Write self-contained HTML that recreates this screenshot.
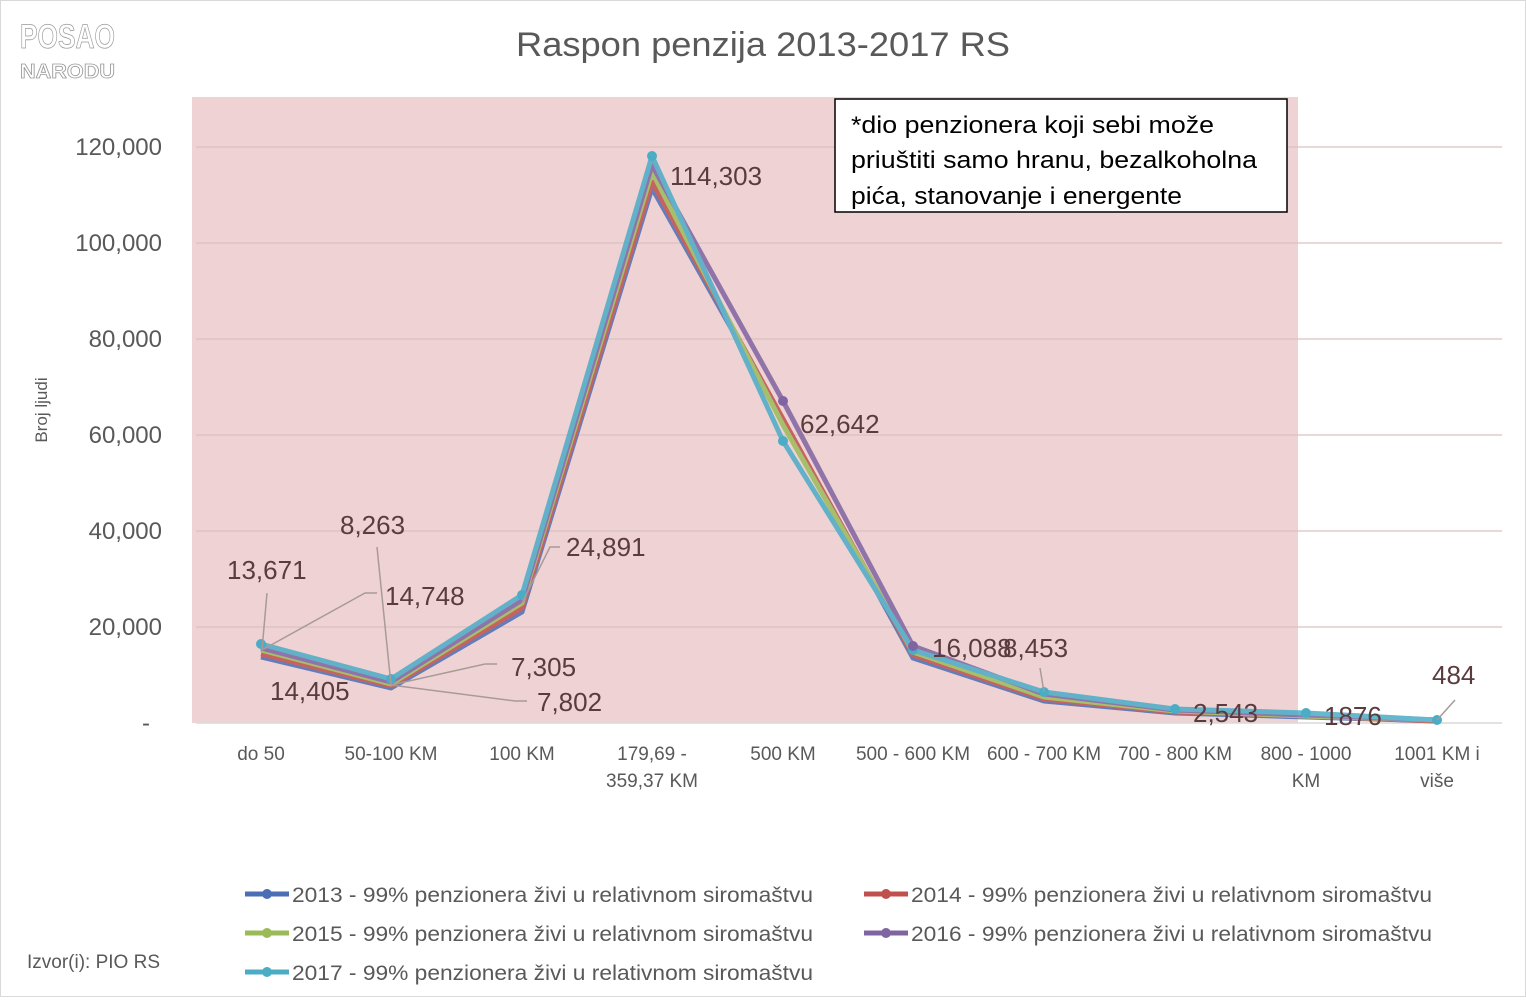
<!DOCTYPE html>
<html><head><meta charset="utf-8"><style>
body{margin:0;background:#fff;}
svg text{font-family:"Liberation Sans",sans-serif;}
</style></head><body>
<svg width="1526" height="997" viewBox="0 0 1526 997" xmlns="http://www.w3.org/2000/svg">
<rect x="0.5" y="0.5" width="1525" height="996" fill="#fff" stroke="#d9d9d9"/>
<g font-family="Liberation Sans" font-weight="bold" fill="#fff" stroke="#999" stroke-width="0.8">
<text x="20" y="48" font-size="34" textLength="95" lengthAdjust="spacingAndGlyphs">POSAO</text>
<text x="20" y="78" font-size="20" textLength="95" lengthAdjust="spacingAndGlyphs">NARODU</text>
</g>
<text x="516" y="56" font-size="34" fill="#595959" textLength="494" lengthAdjust="spacingAndGlyphs">Raspon penzija 2013-2017 RS</text>
<rect x="192" y="97" width="1106" height="626" fill="#efd3d4"/>
<g stroke="#d9c0c0" stroke-width="1.3">
<line x1="196" x2="1502" y1="147" y2="147"/><line x1="196" x2="1502" y1="243" y2="243"/>
<line x1="196" x2="1502" y1="339" y2="339"/><line x1="196" x2="1502" y1="435" y2="435"/>
<line x1="196" x2="1502" y1="531" y2="531"/><line x1="196" x2="1502" y1="627" y2="627"/>
</g>
<line x1="196" x2="1502" y1="723" y2="723" stroke="#d9d9d9" stroke-width="1.5"/>
<g font-size="24" fill="#595959" text-anchor="end">
<text x="162" y="155">120,000</text><text x="162" y="251">100,000</text><text x="162" y="347">80,000</text>
<text x="162" y="443">60,000</text><text x="162" y="539">40,000</text><text x="162" y="635">20,000</text><text x="150" y="731">-</text>
</g>
<text transform="translate(47,410) rotate(-90)" font-size="17" fill="#595959" text-anchor="middle">Broj ljudi</text>
<g font-size="19" fill="#595959" text-anchor="middle">
<text x="261" y="760">do 50</text><text x="391" y="760">50-100 KM</text><text x="522" y="760">100 KM</text>
<text x="652" y="760">179,69 -</text><text x="652" y="787">359,37 KM</text><text x="783" y="760">500 KM</text>
<text x="913" y="760">500 - 600 KM</text><text x="1044" y="760">600 - 700 KM</text><text x="1175" y="760">700 - 800 KM</text>
<text x="1306" y="760">800 - 1000</text><text x="1306" y="787">KM</text><text x="1437" y="760">1001 KM i</text><text x="1437" y="787">više</text>
</g>
<g fill="none" stroke-width="5" stroke-linejoin="round" opacity="0.85">
<polyline stroke="#4a6fb5" points="261,657 391,688 522,612 652,188 783,420 913,658 1044,701 1175,713 1306,717 1437,721"/>
<polyline stroke="#c0504d" points="261,654 391,686 522,608 652,182 783,419 913,655 1044,699 1175,712 1306,716 1437,721"/>
<polyline stroke="#9bbb59" points="261,650 391,684 522,603 652,172 783,425 913,652 1044,697 1175,711 1306,716 1437,720"/>
<polyline stroke="#8064a2" points="261,648 391,682 522,600 652,165 783,401 913,646 1044,694 1175,710 1306,715 1437,720"/>
<polyline stroke="#4bacc6" points="261,644 391,679 522,595 652,156 783,441 913,650 1044,692 1175,709 1306,713 1437,720"/>
</g>
<g fill="#4bacc6">
<circle cx="261" cy="644" r="5"/><circle cx="391" cy="679" r="5"/><circle cx="522" cy="595" r="5"/><circle cx="652" cy="156" r="5"/><circle cx="783" cy="441" r="5"/><circle cx="913" cy="650" r="5"/><circle cx="1044" cy="692" r="5"/><circle cx="1175" cy="709" r="5"/><circle cx="1306" cy="713" r="5"/><circle cx="1437" cy="720" r="5"/>
</g>
<circle cx="783" cy="401" r="5" fill="#8064a2"/><circle cx="913" cy="646" r="5" fill="#8064a2"/>
<g stroke="#a89a9a" stroke-width="1.5" fill="none">
<polyline points="267,593 262,650"/><polyline points="377,593 365,593 262,650"/>
<polyline points="377,547 391,685"/><polyline points="497,664 485,664 391,685"/>
<polyline points="527,701 515,701 391,685"/><polyline points="560,547 550,547 522,603"/>
<polyline points="1040,668 1044,692"/><polyline points="1455,700 1437,720"/>
</g>
<g font-size="26" fill="#5a3b3e">
<text x="227" y="579">13,671</text><text x="340" y="534">8,263</text><text x="385" y="605">14,748</text>
<text x="270" y="700">14,405</text><text x="511" y="676">7,305</text><text x="537" y="711">7,802</text>
<text x="566" y="556">24,891</text><text x="670" y="185">114,303</text><text x="800" y="433">62,642</text>
<text x="932" y="657">16,088</text><text x="1003" y="657">8,453</text><text x="1193" y="722">2,543</text>
<text x="1324" y="725">1876</text><text x="1432" y="684">484</text>
</g>
<rect x="835" y="99" width="452" height="113" fill="#fff" stroke="#000" stroke-width="1.5"/>
<g font-size="24" fill="#000"><text x="851" y="133" textLength="363" lengthAdjust="spacingAndGlyphs">*dio penzionera koji sebi može</text><text x="851" y="168" textLength="406" lengthAdjust="spacingAndGlyphs">priuštiti samo hranu, bezalkoholna</text><text x="851" y="204" textLength="331" lengthAdjust="spacingAndGlyphs">pića, stanovanje i energente</text></g>
<g font-size="21" fill="#595959">
<line x1="245" x2="289" y1="894" y2="894" stroke="#4a6fb5" stroke-width="5"/><circle cx="267" cy="894" r="5" fill="#4a6fb5"/>
<text x="292" y="902" textLength="521" lengthAdjust="spacingAndGlyphs">2013 - 99% penzionera živi u relativnom siromaštvu</text>
<line x1="864" x2="908" y1="894" y2="894" stroke="#c0504d" stroke-width="5"/><circle cx="886" cy="894" r="5" fill="#c0504d"/>
<text x="911" y="902" textLength="521" lengthAdjust="spacingAndGlyphs">2014 - 99% penzionera živi u relativnom siromaštvu</text>
<line x1="245" x2="289" y1="933" y2="933" stroke="#9bbb59" stroke-width="5"/><circle cx="267" cy="933" r="5" fill="#9bbb59"/>
<text x="292" y="941" textLength="521" lengthAdjust="spacingAndGlyphs">2015 - 99% penzionera živi u relativnom siromaštvu</text>
<line x1="864" x2="908" y1="933" y2="933" stroke="#8064a2" stroke-width="5"/><circle cx="886" cy="933" r="5" fill="#8064a2"/>
<text x="911" y="941" textLength="521" lengthAdjust="spacingAndGlyphs">2016 - 99% penzionera živi u relativnom siromaštvu</text>
<line x1="245" x2="289" y1="972" y2="972" stroke="#4bacc6" stroke-width="5"/><circle cx="267" cy="972" r="5" fill="#4bacc6"/>
<text x="292" y="980" textLength="521" lengthAdjust="spacingAndGlyphs">2017 - 99% penzionera živi u relativnom siromaštvu</text>
</g>
<text x="27" y="968" font-size="19" fill="#595959">Izvor(i): PIO RS</text>
</svg>
</body></html>
